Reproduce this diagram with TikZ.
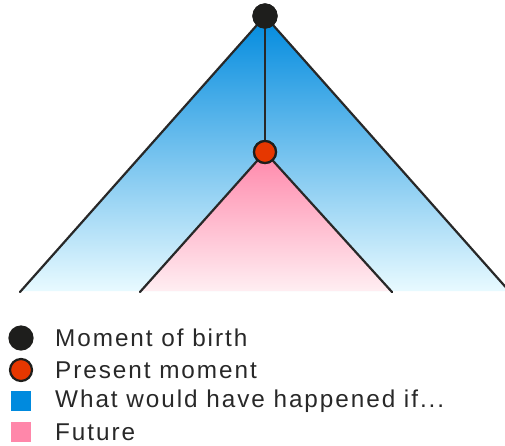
\documentclass[tikz,border=0pt]{standalone}
\usepackage{fontspec}
\setmainfont{Liberation Sans}
\definecolor{bluetop}{RGB}{0,138,222}
\definecolor{bluebot}{RGB}{232,250,255}
\definecolor{pinktop}{RGB}{255,135,170}
\definecolor{pinkbot}{RGB}{255,238,242}
\definecolor{dotblack}{RGB}{30,30,28}
\definecolor{dotred}{RGB}{230,55,0}
\definecolor{linegray}{RGB}{40,40,40}
\definecolor{textgray}{RGB}{40,40,40}
\begin{document}
\begin{tikzpicture}[x=1pt,y=-1pt,
  branch/.style={draw=linegray,line width=2.2pt,line cap=round},
  birthdot/.style={circle,fill=dotblack,draw=dotblack,line width=1.2pt,minimum size=24pt,inner sep=0pt},
  presentdot/.style={circle,fill=dotred,draw=dotblack,line width=2.2pt,minimum size=22pt,inner sep=0pt},
  legtext/.style={anchor=west,text=textgray,font=\fontsize{24.3}{26}\selectfont\addfontfeature{LetterSpace=8},inner sep=0pt},
  legsq/.style={minimum size=20pt,inner sep=0pt}
]
\useasboundingbox (0,0) rectangle (505,445);
\begin{scope}
\clip (0,0) rectangle (505,445);
% fills
\shade[top color=bluetop,bottom color=bluebot] (265,16) -- (20,291) -- (510,291) -- cycle;
\shade[top color=pinktop,bottom color=pinkbot] (265,152) -- (140,291) -- (392,291) -- cycle;
\coordinate (bl) at (20,292);
\coordinate (br) at (510,292);
\coordinate (il) at (140,292);
\coordinate (ir) at (392,292);
\node[birthdot] (birth) at (265,16) {};
\node[presentdot] (now) at (265,152) {};
\draw[branch] (birth.center) -- (bl);
\draw[branch] (birth.center) -- (br);
\draw[branch] (birth.center) -- (now.center);
\draw[branch] (now.center) -- (il);
\draw[branch] (now.center) -- (ir);
\node[birthdot] at (265,16) {};
\node[presentdot] at (265,152) {};
\end{scope}
% legend
\node[birthdot] (lb) at (21,338) {};
\node[presentdot] (lp) at (21,370) {};
\node[legsq,fill=bluetop] (lbq) at (21,401) {};
\node[legsq,fill=pinktop] (lpq) at (21,432) {};
\node[legtext] (tb) at (55,338) {Moment of birth};
\node[legtext] (tp) at (55,370) {Present moment};
\node[legtext] (tw) at (55,401) {What would have happened if...};
\node[legtext] (tf) at (55,432) {Future};
\end{tikzpicture}
\end{document}
